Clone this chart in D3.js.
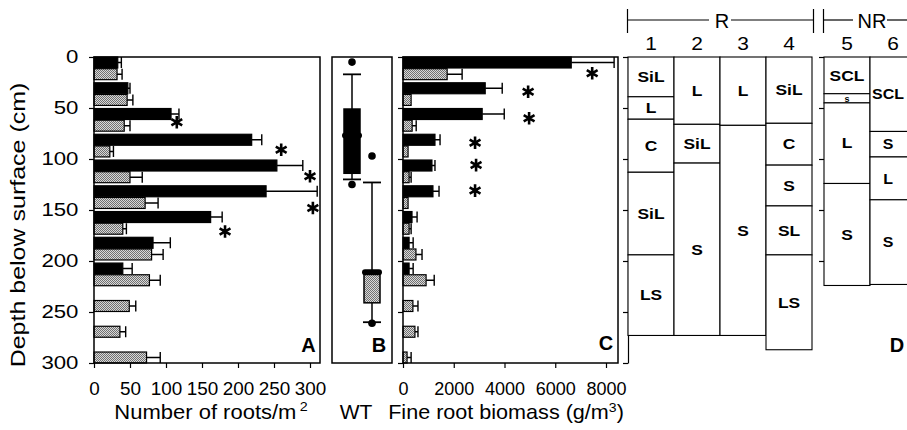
<!DOCTYPE html>
<html>
<head>
<meta charset="utf-8">
<script src="https://cdn.jsdelivr.net/npm/d3@7"></script>
<style>
  body { margin: 0; background: #fff; }
  svg { display: block; }
  text { font-family: "Liberation Sans", Arial, Helvetica, sans-serif; }
</style>
</head>
<body>
<svg></svg>
<script>
// depth classes (cm, top of each 25 cm layer)
const depthBins = [0, 25, 50, 75, 100, 125, 150, 175, 200, 225, 250, 275];

// A: number of roots / m2 (R = black, NR = stippled), mean and SE
const rootsR    = [33, 47, 107, 219, 254, 239, 162, 82, 40, null, null, null];
const rootsRse  = [5, 3, 11, 14, 36, 71, 16, 24, 13, null, null, null];
const rootsNR   = [32, 46, 42, 22, 50, 71, 40, 80, 77, 49, 36, 73];
const rootsNRse = [7, 8, 8, 5, 17, 18, 5, 16, 15, 9, 8, 19];

// C: fine root biomass g/m3
const bioR    = [6630, 3240, 3120, 1260, 1140, 1180, 355, 240, 240, null, null, null];
const bioRse  = [1690, 670, 870, 200, 120, 240, 200, 160, 160, null, null, null];
const bioNR   = [1740, 320, 360, 200, 240, 200, 240, 510, 910, 390, 470, 160];
const bioNRse = [590, 0, 160, 0, 80, 0, 80, 240, 320, 200, 120, 160];

// significance stars [value, depth]
const starsA = [[115, 64], [260, 91], [300, 117], [304, 148], [182, 171]];
const starsC = [[7456, 16], [4931, 34], [4970, 60], [2840, 84], [2880, 106], [2840, 131]];

// B: water table depth box plots
const boxGroups = ["R", "NR"];
const boxLow  = [17, 123];
const boxQ1   = [51, 211];
const boxMed  = [77, 211];
const boxQ3   = [114, 241];
const boxHigh = [120, 260];
const boxOut  = [[5, 125], [97, 261]];

// D: soil profiles [texture, top, bottom]
const colsR  = ["1", "2", "3", "4"];
const colsNR = ["5", "6"];
const soil1 = [["SiL", 0, 39], ["L", 39, 61], ["C", 61, 113], ["SiL", 113, 194], ["LS", 194, 273]];
const soil2 = [["L", 0, 66], ["SiL", 66, 104], ["S", 104, 273]];
const soil3 = [["L", 0, 67], ["S", 67, 273]];
const soil4 = [["SiL", 0, 65], ["C", 65, 106], ["S", 106, 146], ["SL", 146, 194], ["LS", 194, 287]];
const soil5 = [["SCL", 0, 36], ["s", 36, 45], ["L", 45, 124], ["S", 124, 224]];
const soil6 = [["SCL", 0, 73], ["S", 73, 98], ["L", 98, 140], ["S", 140, 223]];

const depthTicks = [0, 50, 100, 150, 200, 250, 300];

const width = 907, height = 430;
const svg = d3.select("svg").attr("width", width).attr("height", height);
svg.append("rect").attr("width", width).attr("height", height).attr("fill", "#fff");

const defs = svg.append("defs");
const pat = defs.append("pattern").attr("id", "stip")
    .attr("width", 2).attr("height", 2).attr("patternUnits", "userSpaceOnUse");
pat.append("rect").attr("width", 2).attr("height", 2).attr("fill", "#d8d8d8");
pat.append("rect").attr("width", 1).attr("height", 1).attr("fill", "#707070");
pat.append("rect").attr("x", 1).attr("y", 1).attr("width", 1).attr("height", 1).attr("fill", "#707070");

const y = d3.scaleLinear().domain([0, 300]).range([57, 363]);
const yBand = d3.scaleBand().domain(depthBins).range([y(0), y(300)]).paddingInner(0.12).paddingOuter(0);
const ySub = d3.scaleBand().domain(["R", "NR"]).range([0, yBand.bandwidth()]).paddingInner(0.06).paddingOuter(0);

function txt(g, x, yy, s, size, k, opts = {}) {
    const t = g.append("text")
        .attr("transform", `translate(${x},${yy})${opts.rotate ? " rotate(-90)" : ""} scale(${k},1)`)
        .attr("text-anchor", opts.anchor || "middle")
        .attr("font-size", size)
        .attr("font-weight", opts.bold ? "bold" : null)
        .text(s);
    if (opts.dy) t.attr("dy", opts.dy);
    return t;
}

function styleAxis(g, size, k) {
    g.attr("font-size", size).attr("font-family", null);
    g.selectAll(".tick line").attr("stroke-width", 1.2);
    g.selectAll("text").attr("transform", `scale(${k},1)`).attr("fill", "#000");
}

function barPanel(g, x, rVals, rSe, nrVals, nrSe) {
    const items = [];
    depthBins.forEach((d, i) => {
        if (rVals[i] != null) items.push({ d, s: "R", v: rVals[i], se: rSe[i] });
        if (nrVals[i] != null) items.push({ d, s: "NR", v: nrVals[i], se: nrSe[i] });
    });
    g.selectAll("rect.bar").data(items).join("rect")
        .attr("class", "bar")
        .attr("x", x(0))
        .attr("y", d => yBand(d.d) + ySub(d.s))
        .attr("width", d => x(d.v) - x(0))
        .attr("height", ySub.bandwidth())
        .attr("fill", d => d.s === "R" ? "#000" : "url(#stip)")
        .attr("stroke", "#000").attr("stroke-width", 1.2);
    g.selectAll("path.err").data(items.filter(d => d.se > 0)).join("path")
        .attr("class", "err")
        .attr("d", d => {
            const yc = yBand(d.d) + ySub(d.s) + ySub.bandwidth() / 2;
            const h = ySub.bandwidth() / 2;
            const x1 = x(d.v), x2 = x(d.v + d.se);
            return `M${x1},${yc}H${x2}M${x2},${yc - h}V${yc + h}`;
        })
        .attr("fill", "none").attr("stroke", "#000").attr("stroke-width", 1.4);
}

function stars(g, x, list) {
    g.selectAll("path.star").data(list).join("path")
        .attr("class", "star")
        .attr("transform", d => `translate(${x(d[0])},${y(d[1])})`)
        .attr("d", d3.symbol(d3.symbolAsterisk, 110))
        .attr("fill", "none").attr("stroke", "#000").attr("stroke-width", 2.6);
}

// ---------- Panel A ----------
const xA = d3.scaleLinear().domain([0, 300]).range([94, 310]);
const gA = svg.append("g");
barPanel(gA, xA, rootsR, rootsRse, rootsNR, rootsNRse);
stars(gA, xA, starsA);
gA.append("rect").attr("x", 94).attr("y", y(0)).attr("width", 320 - 94).attr("height", y(300) - y(0))
    .attr("fill", "none").attr("stroke", "#000").attr("stroke-width", 1.5);
const axA = gA.append("g").attr("transform", `translate(0,${y(300)})`)
    .call(d3.axisBottom(xA).tickValues([0, 50, 100, 150, 200, 250, 300]).tickSize(5).tickSizeOuter(0).tickPadding(14));
axA.select(".domain").remove();
styleAxis(axA, 18, 1.05);
const ayA = gA.append("g").attr("transform", "translate(94,0)")
    .call(d3.axisLeft(y).tickValues(depthTicks).tickSize(5).tickSizeOuter(0).tickPadding(8));
ayA.select(".domain").remove();
styleAxis(ayA, 18.5, 1.2);
txt(gA, 308.5, 352, "A", 20, 1, { bold: true });

// ---------- Panel B ----------
const xB = d3.scalePoint().domain(boxGroups).range([332, 392]).padding(1);
const gB = svg.append("g");
gB.append("rect").attr("x", 332).attr("y", y(0)).attr("width", 60).attr("height", y(300) - y(0))
    .attr("fill", "none").attr("stroke", "#000").attr("stroke-width", 1.5);
boxGroups.forEach((grp, i) => {
    const cx = xB(grp);
    const b = gB.append("g");
    b.append("line").attr("x1", cx).attr("x2", cx).attr("y1", y(boxLow[i])).attr("y2", y(boxHigh[i]))
        .attr("stroke", "#000").attr("stroke-width", 1.5);
    [boxLow[i], boxHigh[i]].forEach(v => {
        b.append("line").attr("x1", cx - 9).attr("x2", cx + 9).attr("y1", y(v)).attr("y2", y(v))
            .attr("stroke", "#000").attr("stroke-width", 1.8);
    });
    b.append("rect").attr("x", cx - 8).attr("width", 16)
        .attr("y", y(boxQ1[i])).attr("height", y(boxQ3[i]) - y(boxQ1[i]))
        .attr("fill", i === 0 ? "#000" : "url(#stip)").attr("stroke", "#000").attr("stroke-width", 1.5);
    b.append("line").attr("x1", cx - 7).attr("x2", cx + 7).attr("y1", y(boxMed[i])).attr("y2", y(boxMed[i]))
        .attr("stroke", "#000").attr("stroke-width", 6).attr("stroke-linecap", "round");
    b.selectAll("circle").data(boxOut[i]).join("circle")
        .attr("cx", cx).attr("cy", d => y(d)).attr("r", 3.8).attr("fill", "#000");
});
txt(gB, 379, 352, "B", 20, 1, { bold: true });

// ---------- Panel C ----------
const xC = d3.scaleLinear().domain([0, 8000]).range([403, 606]);
const gC = svg.append("g");
barPanel(gC, xC, bioR, bioRse, bioNR, bioNRse);
stars(gC, xC, starsC);
gC.append("rect").attr("x", 403).attr("y", y(0)).attr("width", 618 - 403).attr("height", y(300) - y(0))
    .attr("fill", "none").attr("stroke", "#000").attr("stroke-width", 1.5);
const axC = gC.append("g").attr("transform", `translate(0,${y(300)})`)
    .call(d3.axisBottom(xC).tickValues([0, 2000, 4000, 6000, 8000]).tickFormat(d3.format("d"))
        .tickSize(5).tickSizeOuter(0).tickPadding(14));
axC.select(".domain").remove();
styleAxis(axC, 18, 1.0);
const ayC = gC.append("g").attr("transform", "translate(403,0)")
    .call(d3.axisLeft(y).tickValues(depthTicks).tickSize(5).tickSizeOuter(0).tickFormat(""));
ayC.select(".domain").remove();
styleAxis(ayC, 18, 1);
txt(gC, 606, 350, "C", 20, 1, { bold: true });

// ---------- Panel D ----------
const gD = svg.append("g");
const colR = d3.scaleBand().domain(colsR).range([628, 812]);
const colNR = d3.scaleBand().domain(colsNR).range([824, 916]);
const soils = { "1": soil1, "2": soil2, "3": soil3, "4": soil4, "5": soil5, "6": soil6 };

const ayD1 = gD.append("g").attr("transform", "translate(628,0)")
    .call(d3.axisLeft(y).tickValues(depthTicks).tickSize(5).tickSizeOuter(0).tickFormat(""));
styleAxis(ayD1, 18, 1);
ayD1.select(".domain").attr("stroke-width", 1.2);
const ayD2 = gD.append("g").attr("transform", "translate(824,0)")
    .call(d3.axisLeft(y).tickValues([0, 50, 100, 150, 200]).tickSize(5).tickSizeOuter(0).tickFormat(""));
ayD2.select(".domain").remove();
styleAxis(ayD2, 18, 1);

[[colR, colsR], [colNR, colsNR]].forEach(([sc, cols]) => {
    cols.forEach(c => {
        const x0 = sc(c), w = sc.bandwidth();
        const layers = soils[c];
        gD.selectAll(null).data(layers).enter().append("rect")
            .attr("x", x0).attr("width", w)
            .attr("y", d => y(d[1])).attr("height", d => y(d[2]) - y(d[1]))
            .attr("fill", "#fff").attr("stroke", "#000").attr("stroke-width", 1.1);
        layers.forEach(d => {
            const small = d[0] === "s";
            // keep the wide label of the edge column inside the picture
            let cx = x0 + w / 2, k = small ? 1 : 1.2;
            if (cx + 18 > width) { cx = width - 19; k = 1.1; }
            txt(gD, cx, (y(d[1]) + y(d[2])) / 2, d[0], small ? 9 : 14.5, k,
                { bold: true, dy: "0.36em" });
        });
        txt(gD, x0 + w / 2, 50, c, 19, 1.1);
    });
});

// group brackets R / NR
[[colR, "R", 11], [colNR, "NR", 17]].forEach(([sc, name, half]) => {
    const [a, b] = sc.range();
    const x1 = a - 0.5, x2 = b + 1.5, mid = (a + b) / 2;
    const br = gD.append("g").attr("stroke", "#000").attr("stroke-width", 1.2);
    br.append("line").attr("x1", x1).attr("x2", mid - half).attr("y1", 20).attr("y2", 20);
    br.append("line").attr("x1", mid + half).attr("x2", x2).attr("y1", 20).attr("y2", 20);
    br.append("line").attr("x1", x1).attr("x2", x1).attr("y1", 9).attr("y2", 33);
    br.append("line").attr("x1", x2).attr("x2", x2).attr("y1", 9).attr("y2", 33);
    txt(gD, mid + 2, 28, name, 20, 1);
});
txt(gD, 897, 352, "D", 20, 1, { bold: true });

// ---------- axis titles ----------
txt(svg, 25, 225, "Depth below surface (cm)", 21, 1.19, { rotate: true });
const tA = txt(svg, 211, 419, "Number of roots/m", 20, 1.1);
tA.append("tspan").attr("dx", 3).attr("dy", -8).attr("font-size", 13).text("2");
txt(svg, 356, 419, "WT", 20, 1.05);
const tC = txt(svg, 506, 419, "Fine root biomass (g/m", 20, 1.08);
tC.append("tspan").attr("dy", -7).attr("font-size", 13).text("3");
tC.append("tspan").attr("dy", 7).text(")");
</script>
</body>
</html>
